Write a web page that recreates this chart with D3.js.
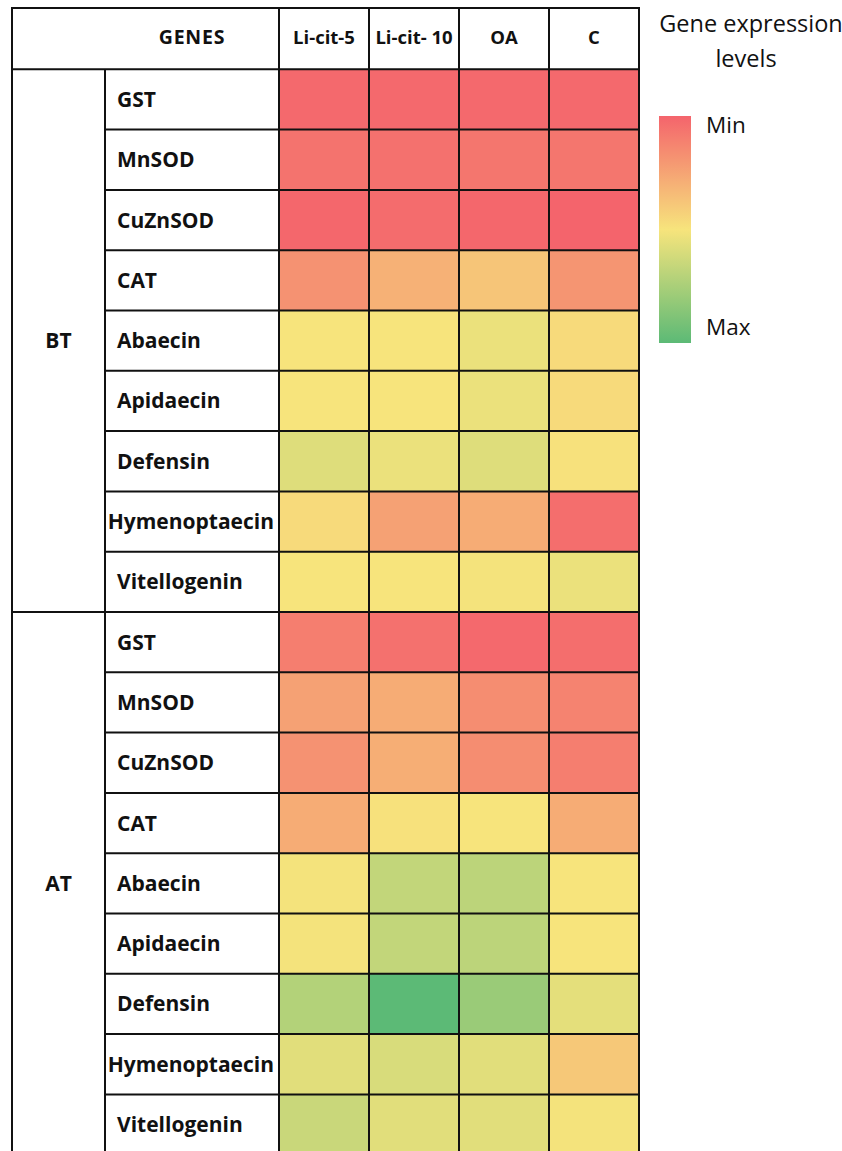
<!DOCTYPE html>
<html>
<head>
<meta charset="utf-8">
<script src="https://cdn.jsdelivr.net/npm/d3@7"></script>
<style>
  html, body { margin: 0; padding: 0; background: #ffffff; }
  svg { display: block; }
  text { font-family: "Open Sans", "Noto Sans", sans-serif; fill: #111; }
</style>
</head>
<body>
<svg id="chart" width="842" height="1151"></svg>
<script>
// Treatments (columns), tissue groups and genes (rows)
const treatments = ["Li-cit-5", "Li-cit- 10", "OA", "C"];
const groups = ["BT", "AT"];
const genes = ["GST", "MnSOD", "CuZnSOD", "CAT", "Abaecin", "Apidaecin", "Defensin", "Hymenoptaecin", "Vitellogenin"];

// Relative expression, 0 = Min (red) ... 1 = Max (green); one row per gene, columns follow `treatments`
const valuesBT = [
  [0.02, 0.02, 0.02, 0.02],
  [0.06, 0.05, 0.07, 0.07],
  [0.01, 0.03, 0.01, 0.00],
  [0.18, 0.30, 0.38, 0.19],
  [0.50, 0.50, 0.54, 0.46],
  [0.50, 0.50, 0.54, 0.46],
  [0.58, 0.54, 0.58, 0.49],
  [0.46, 0.24, 0.28, 0.04],
  [0.50, 0.50, 0.51, 0.54]
];
const valuesAT = [
  [0.10, 0.05, 0.02, 0.04],
  [0.24, 0.28, 0.16, 0.12],
  [0.18, 0.29, 0.16, 0.10],
  [0.28, 0.49, 0.50, 0.28],
  [0.51, 0.67, 0.69, 0.50],
  [0.51, 0.67, 0.69, 0.50],
  [0.72, 1.00, 0.80, 0.56],
  [0.57, 0.60, 0.57, 0.39],
  [0.65, 0.57, 0.57, 0.51]
];
const legendTitle = ["Gene expression", "levels"];
const legendLabels = ["Min", "Max"];

// Flatten into cell records
const rows = [];
groups.forEach(g => genes.forEach(gene => rows.push({ key: g + "|" + gene, group: g, gene })));
const cells = [];
[valuesBT, valuesAT].forEach((mat, gi) => {
  mat.forEach((vals, ri) => {
    vals.forEach((v, ci) => {
      cells.push({ row: groups[gi] + "|" + genes[ri], col: treatments[ci], value: v });
    });
  });
});

const svg = d3.select("#chart");

// Table geometry
const tLeft = 12, groupRight = 105, geneRight = 279, tRight = 639;
const tTop = 8, headerBottom = 69.3, rowH = 60.3;

const x = d3.scaleBand().domain(treatments).range([geneRight, tRight]);
const y = d3.scaleBand().domain(rows.map(r => r.key)).range([headerBottom, headerBottom + rows.length * rowH]);
const tBottom = headerBottom + rows.length * rowH;

const color = d3.scaleLinear()
  .domain([0, 0.5, 1])
  .range(["#f4646c", "#f7e47c", "#5cba76"])
  .interpolate(d3.interpolateRgb);

// Heat cells
svg.append("g").selectAll("rect")
  .data(cells)
  .join("rect")
  .attr("x", d => x(d.col))
  .attr("y", d => y(d.row))
  .attr("width", x.bandwidth())
  .attr("height", y.bandwidth())
  .attr("fill", d => color(d.value));

// Grid lines
const grid = svg.append("g").attr("stroke", "#111").attr("stroke-width", 2).attr("fill", "none");
grid.append("line").attr("x1", tLeft - 1).attr("x2", tRight + 1).attr("y1", tTop).attr("y2", tTop);
grid.append("line").attr("x1", tLeft).attr("x2", tRight).attr("y1", headerBottom).attr("y2", headerBottom);
grid.append("line").attr("x1", tLeft).attr("x2", tLeft).attr("y1", tTop).attr("y2", tBottom);
grid.append("line").attr("x1", groupRight).attr("x2", groupRight).attr("y1", headerBottom).attr("y2", tBottom);
grid.selectAll("line.col")
  .data([geneRight, ...treatments.map(t => x(t) + x.bandwidth())])
  .join("line")
  .attr("class", "col")
  .attr("x1", d => d).attr("x2", d => d)
  .attr("y1", tTop).attr("y2", tBottom);
// row separators (the last gene of a group closes the whole block)
grid.selectAll("line.row")
  .data(rows)
  .join("line")
  .attr("class", "row")
  .attr("x1", d => (genes.indexOf(d.gene) === genes.length - 1 ? tLeft : groupRight))
  .attr("x2", tRight)
  .attr("y1", d => y(d.key) + y.bandwidth())
  .attr("y2", d => y(d.key) + y.bandwidth());

// Header labels
svg.append("text")
  .attr("x", (groupRight + geneRight) / 2)
  .attr("y", 44)
  .attr("text-anchor", "middle")
  .attr("font-size", 19.5)
  .attr("font-weight", 700)
  .attr("letter-spacing", 0.8)
  .text("GENES");

svg.append("g").selectAll("text")
  .data(treatments)
  .join("text")
  .attr("x", d => x(d) + x.bandwidth() / 2)
  .attr("y", 44)
  .attr("text-anchor", "middle")
  .attr("font-size", 18.5)
  .attr("font-weight", 700)
  .text(d => d);

// Gene labels; a label too long for its cell is pulled left to fit
svg.append("g").selectAll("text")
  .data(rows)
  .join("text")
  .attr("x", 117)
  .attr("y", d => y(d.key) + y.bandwidth() / 2 + 7.5)
  .attr("font-size", 21)
  .attr("font-weight", 700)
  .text(d => d.gene)
  .each(function () {
    const len = this.getComputedTextLength();
    d3.select(this).attr("x", Math.min(117, geneRight - 5 - len));
  });

// Group labels, centred on their block of rows
svg.append("g").selectAll("text")
  .data(groups)
  .join("text")
  .attr("x", (tLeft + groupRight) / 2)
  .attr("y", g => {
    const first = y(g + "|" + genes[0]);
    const last = y(g + "|" + genes[genes.length - 1]) + y.bandwidth();
    return (first + last) / 2 + 7.5;
  })
  .attr("text-anchor", "middle")
  .attr("font-size", 21)
  .attr("font-weight", 700)
  .text(d => d);

// Legend
const legend = svg.append("g");
legend.selectAll("text.title")
  .data(legendTitle)
  .join("text")
  .attr("class", "title")
  .attr("x", (d, i) => [751, 746][i])
  .attr("y", (d, i) => 31.5 + i * 35)
  .attr("text-anchor", "middle")
  .attr("font-size", 23.5)
  .text(d => d);

const defs = svg.append("defs");
const grad = defs.append("linearGradient")
  .attr("id", "legend-grad")
  .attr("x1", 0).attr("x2", 0).attr("y1", 0).attr("y2", 1);
grad.selectAll("stop")
  .data(d3.range(0, 1.0001, 0.1))
  .join("stop")
  .attr("offset", d => d)
  .attr("stop-color", d => color(d));

const legY = d3.scaleLinear().domain([0, 1]).range([116, 343]);
legend.append("rect")
  .attr("x", 659)
  .attr("y", legY(0))
  .attr("width", 32)
  .attr("height", legY(1) - legY(0))
  .attr("fill", "url(#legend-grad)");

legend.selectAll("text.lab")
  .data(legendLabels)
  .join("text")
  .attr("class", "lab")
  .attr("x", 706)
  .attr("y", (d, i) => [133, 335][i])
  .attr("font-size", 22.5)
  .text(d => d);
</script>
</body>
</html>
